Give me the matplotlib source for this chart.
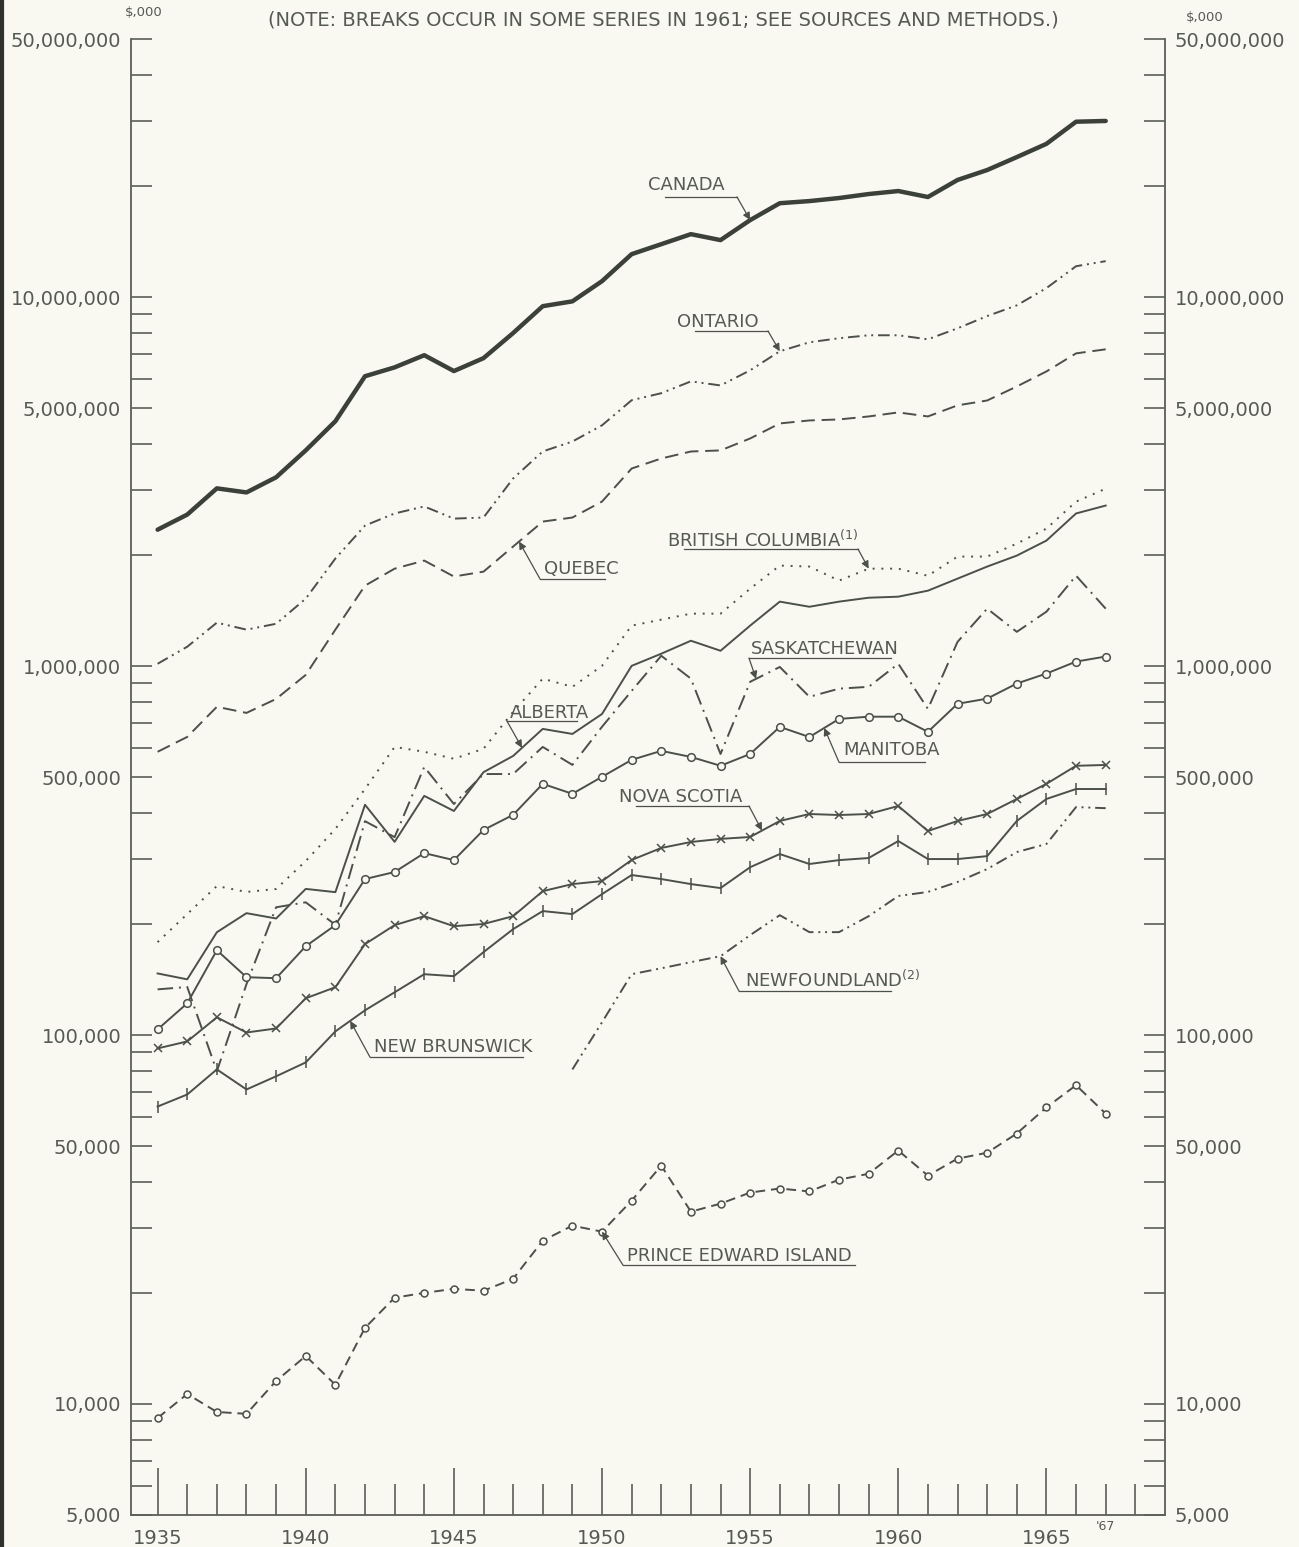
import numpy as np
import matplotlib.pyplot as plt
from matplotlib.lines import Line2D

# values in $,000
years = np.arange(1935, 1968)
nf_years = np.arange(1949, 1968)

canada = [2344000, 2576000, 3034000, 2958000, 3251000, 3846000, 4613000, 6109000, 6457000, 6966000,
          6310000, 6839000, 8000000, 9460000, 9750000, 11060000, 13090000, 13930000, 14830000, 14290000,
          16190000, 17990000, 18230000, 18580000, 19050000, 19410000, 18700000, 20800000, 22130000,
          23990000, 26060000, 29920000, 30060000]
ontario = [1015000, 1129000, 1312000, 1256000, 1303000, 1524000, 1958000, 2405000, 2594000, 2710000,
           2512000, 2529000, 3228000, 3821000, 4064000, 4497000, 5260000, 5495000, 5916000, 5768000,
           6339000, 7140000, 7551000, 7745000, 7889000, 7889000, 7693000, 8240000, 8892000, 9510000,
           10590000, 12140000, 12530000]
quebec = [586000, 643000, 776000, 747000, 815000, 947000, 1256000, 1653000, 1838000, 1933000,
          1750000, 1804000, 2110000, 2466000, 2529000, 2794000, 3434000, 3656000, 3819000, 3845000,
          4143000, 4550000, 4636000, 4665000, 4753000, 4874000, 4753000, 5094000, 5251000, 5731000,
          6295000, 7046000, 7227000]
british_columbia = [178600, 212800, 253500, 244300, 248900, 296300, 362000, 464500, 604000, 586000,
                    561000, 597000, 752000, 925000, 879000, 1002000, 1288000, 1337000, 1388000, 1388000,
                    1622000, 1874000, 1862000, 1706000, 1838000, 1838000, 1758000, 1982000, 1982000,
                    2149000, 2360000, 2793000, 3028000]
alberta = [146900, 141600, 190000, 214000, 207000, 249000, 244000, 421000, 334000, 445000,
           405000, 516000, 571000, 676000, 655000, 742000, 1002000, 1081000, 1172000, 1101000,
           1288000, 1496000, 1449000, 1496000, 1533000, 1543000, 1602000, 1727000, 1862000, 1994000,
           2190000, 2594000, 2725000]
saskatchewan = [133000, 135000, 79800, 137400, 222000, 229000, 199000, 380000, 344000, 533000,
                423000, 510000, 510000, 604000, 540000, 685000, 857000, 1067000, 925000, 578000,
                907000, 995000, 826000, 869000, 879000, 1015000, 766000, 1164000, 1432000, 1239000,
                1405000, 1759000, 1432000]
manitoba = [103600, 121900, 169800, 143500, 142600, 174100, 198600, 264800, 276700, 311300,
            298000, 359700, 395300, 479700, 450800, 501200, 557200, 589400, 567500, 537000,
            578100, 684500, 642600, 719400, 729500, 729500, 663700, 790700, 816600, 897400,
            955000, 1029000, 1062000]
nova_scotia = [92000, 96100, 111700, 101600, 104200, 125800, 134800, 176400, 198600, 210000,
               197300, 200000, 210000, 245500, 256600, 261400, 298300, 321500, 333700, 340200,
               344300, 380500, 397400, 394900, 397400, 417800, 357300, 380500, 397400, 436500,
               479700, 537000, 539700]
new_brunswick = [64000, 69000, 80700, 71200, 77300, 84300, 102300, 116700, 130600, 146200,
                 144400, 167800, 193700, 216800, 212800, 241000, 271500, 264800, 256600, 250300,
                 285100, 309500, 290900, 298000, 301900, 335700, 300000, 300000, 305500, 380500,
                 436500, 464500, 464500]
newfoundland = [80700, 108300, 146200, 151700, 157600, 163600, 186600, 211300, 190100, 190100,
                210000, 238200, 244300, 260000, 281800, 313300, 329600, 415000, 412100]
pei = [9160, 10640, 9510, 9400, 11540, 13490, 11270, 16080, 19410, 20000,
       20510, 20270, 21840, 27710, 30430, 29310, 35570, 44260, 33210, 34910,
       37410, 38370, 37670, 40550, 42070, 48640, 41590, 46240, 47970, 54080,
       63680, 73110, 61240]

BG = '#f9f9f1'
INK = '#4b5048'
TXT = '#555a52'

fig = plt.figure(figsize=(12.99, 15.47), dpi=100, facecolor=BG)
ax = fig.add_axes([0.1008, 0.0207, 0.7960, 0.9538], facecolor=BG)
ax.set_yscale('log')

lw = 1.4
ax.plot(years, canada, color='#3b4039', lw=3.2, solid_capstyle='round')
ax.plot(years, ontario, color=INK, lw=lw, dashes=(6, 2.5, 1, 2.5, 1, 2.5))
ax.plot(years, quebec, color=INK, lw=lw, dashes=(7, 3.5))
ax.plot(years, british_columbia, color=INK, lw=lw, dashes=(1, 3.5))
ax.plot(years, alberta, color=INK, lw=lw)
ax.plot(years, saskatchewan, color=INK, lw=lw, dashes=(8, 3, 1, 3))
ax.plot(years, manitoba, color=INK, lw=lw, marker='o', ms=5.5, mfc=BG, mec=INK, mew=1.1)
ax.plot(years, nova_scotia, color=INK, lw=lw, marker='x', ms=6, mew=1.1)
ax.plot(years, new_brunswick, color=INK, lw=lw, marker='|', ms=8, mew=1.1)
ax.plot(nf_years, newfoundland, color=INK, lw=lw, dashes=(6, 2.5, 1, 2.5, 1, 2.5))
ax.plot(years, pei, color=INK, lw=lw, dashes=(5, 3), marker='o', ms=5, mfc=BG, mec=INK, mew=1.1)

ax.set_xlim(1934.1, 1969.0)
ax.set_ylim(5000, 50000000)

# y ticks: every 1..9 per decade, labels on 1 and 5
yt, yl = [], []
for e in range(3, 8):
    for m in range(1, 10):
        v = m * 10 ** e
        if 5000 <= v <= 50000000:
            yt.append(v)
            yl.append(f'{v:,}' if m in (1, 5) else '')
ax.set_yticks(yt)
ax.set_yticklabels(yl)
ax.yaxis.set_minor_locator(plt.NullLocator())
ax.tick_params(axis='y', which='major', direction='in', length=15, width=1.2, color='#5a5f57',
               left=True, right=True, labelleft=True, labelright=True, labelsize=14,
               labelcolor=TXT, pad=7)

ax.set_xticks(range(1935, 1970, 5))
ax.set_xticklabels([str(y) for y in range(1935, 1970, 5)])
ax.set_xticks([y for y in range(1935, 1969) if y % 5], minor=True)
ax.tick_params(axis='x', which='major', direction='in', length=34, width=1.2, color='#5a5f57',
               labelsize=14, labelcolor=TXT, pad=10)
ax.tick_params(axis='x', which='minor', direction='in', length=22, width=1.2, color='#5a5f57')
ax.text(1967, -0.008, "'67", transform=ax.get_xaxis_transform(), fontsize=9, color=TXT,
        ha='center', va='center')

ax.spines['top'].set_visible(False)
for s in ('left', 'right', 'bottom'):
    ax.spines[s].set_color('#5a5f57')
    ax.spines[s].set_linewidth(1.3)


def at(yrs, vals, yr):
    return yr, 10 ** np.interp(yr, yrs, np.log10(vals))


def label(text, tx, ty, u0, u1, uy, from_left, yrs, vals, yr):
    ax.text(tx, ty, text, transform=ax.transAxes, fontsize=13, color=TXT, va='center', ha='left')
    ax.plot([u0, u1], [uy, uy], transform=ax.transAxes, color=INK, lw=0.9)
    sx = u0 if from_left else u1
    ax.annotate('', xy=at(yrs, vals, yr), xycoords='data', xytext=(sx, uy), textcoords='axes fraction',
                arrowprops=dict(arrowstyle='-|>', color=INK, lw=0.9, shrinkA=0, shrinkB=0,
                                mutation_scale=11))


label('CANADA', 0.500, 0.9014, 0.5164, 0.5861, 0.8933, False, years, canada, 1955.0)
label('ONTARIO', 0.528, 0.8085, 0.5455, 0.6161, 0.8024, False, years, ontario, 1956.0)
label('QUEBEC', 0.3994, 0.6411, 0.3956, 0.4584, 0.6344, True, years, quebec, 1947.2)
label('BRITISH COLUMBIA$^{(1)}$', 0.5184, 0.6608, 0.5348, 0.7031, 0.6547, False,
      years, british_columbia, 1959.0)
label('SASKATCHEWAN', 0.5996, 0.5869, 0.5977, 0.7350, 0.5808, True, years, saskatchewan, 1955.2)
label('ALBERTA', 0.3665, 0.5435, 0.3636, 0.4313, 0.5381, True, years, alberta, 1947.3)
label('MANITOBA', 0.6886, 0.5185, 0.6847, 0.7679, 0.5103, True, years, manitoba, 1957.5)
label('NOVA SCOTIA', 0.4720, 0.4866, 0.4884, 0.5977, 0.4805, False, years, nova_scotia, 1955.4)
label('NEW BRUNSWICK', 0.2350, 0.3172, 0.2311, 0.3791, 0.3104, True, years, new_brunswick, 1941.5)
label('NEWFOUNDLAND$^{(2)}$', 0.5938, 0.3626, 0.5880, 0.7350, 0.3551, True,
      nf_years, newfoundland, 1954.0)
label('PRINCE EDWARD ISLAND', 0.4797, 0.1755, 0.4758, 0.7002, 0.1694, True, years, pei, 1950.0)

fig.text(0.511, 0.987, '(NOTE: BREAKS OCCUR IN SOME SERIES IN 1961; SEE SOURCES AND METHODS.)',
         fontsize=14, color=TXT, ha='center', va='center')
fig.text(0.1105, 0.992, '$,000', fontsize=9.5, color=TXT, ha='center', va='center')
fig.text(0.9275, 0.989, '$,000', fontsize=9.5, color=TXT, ha='center', va='center')

fig.add_artist(Line2D([0.0015, 0.0015], [0, 1], transform=fig.transFigure, color='#2e312c', lw=3))

fig.savefig('out.png', dpi=100, facecolor=BG)
